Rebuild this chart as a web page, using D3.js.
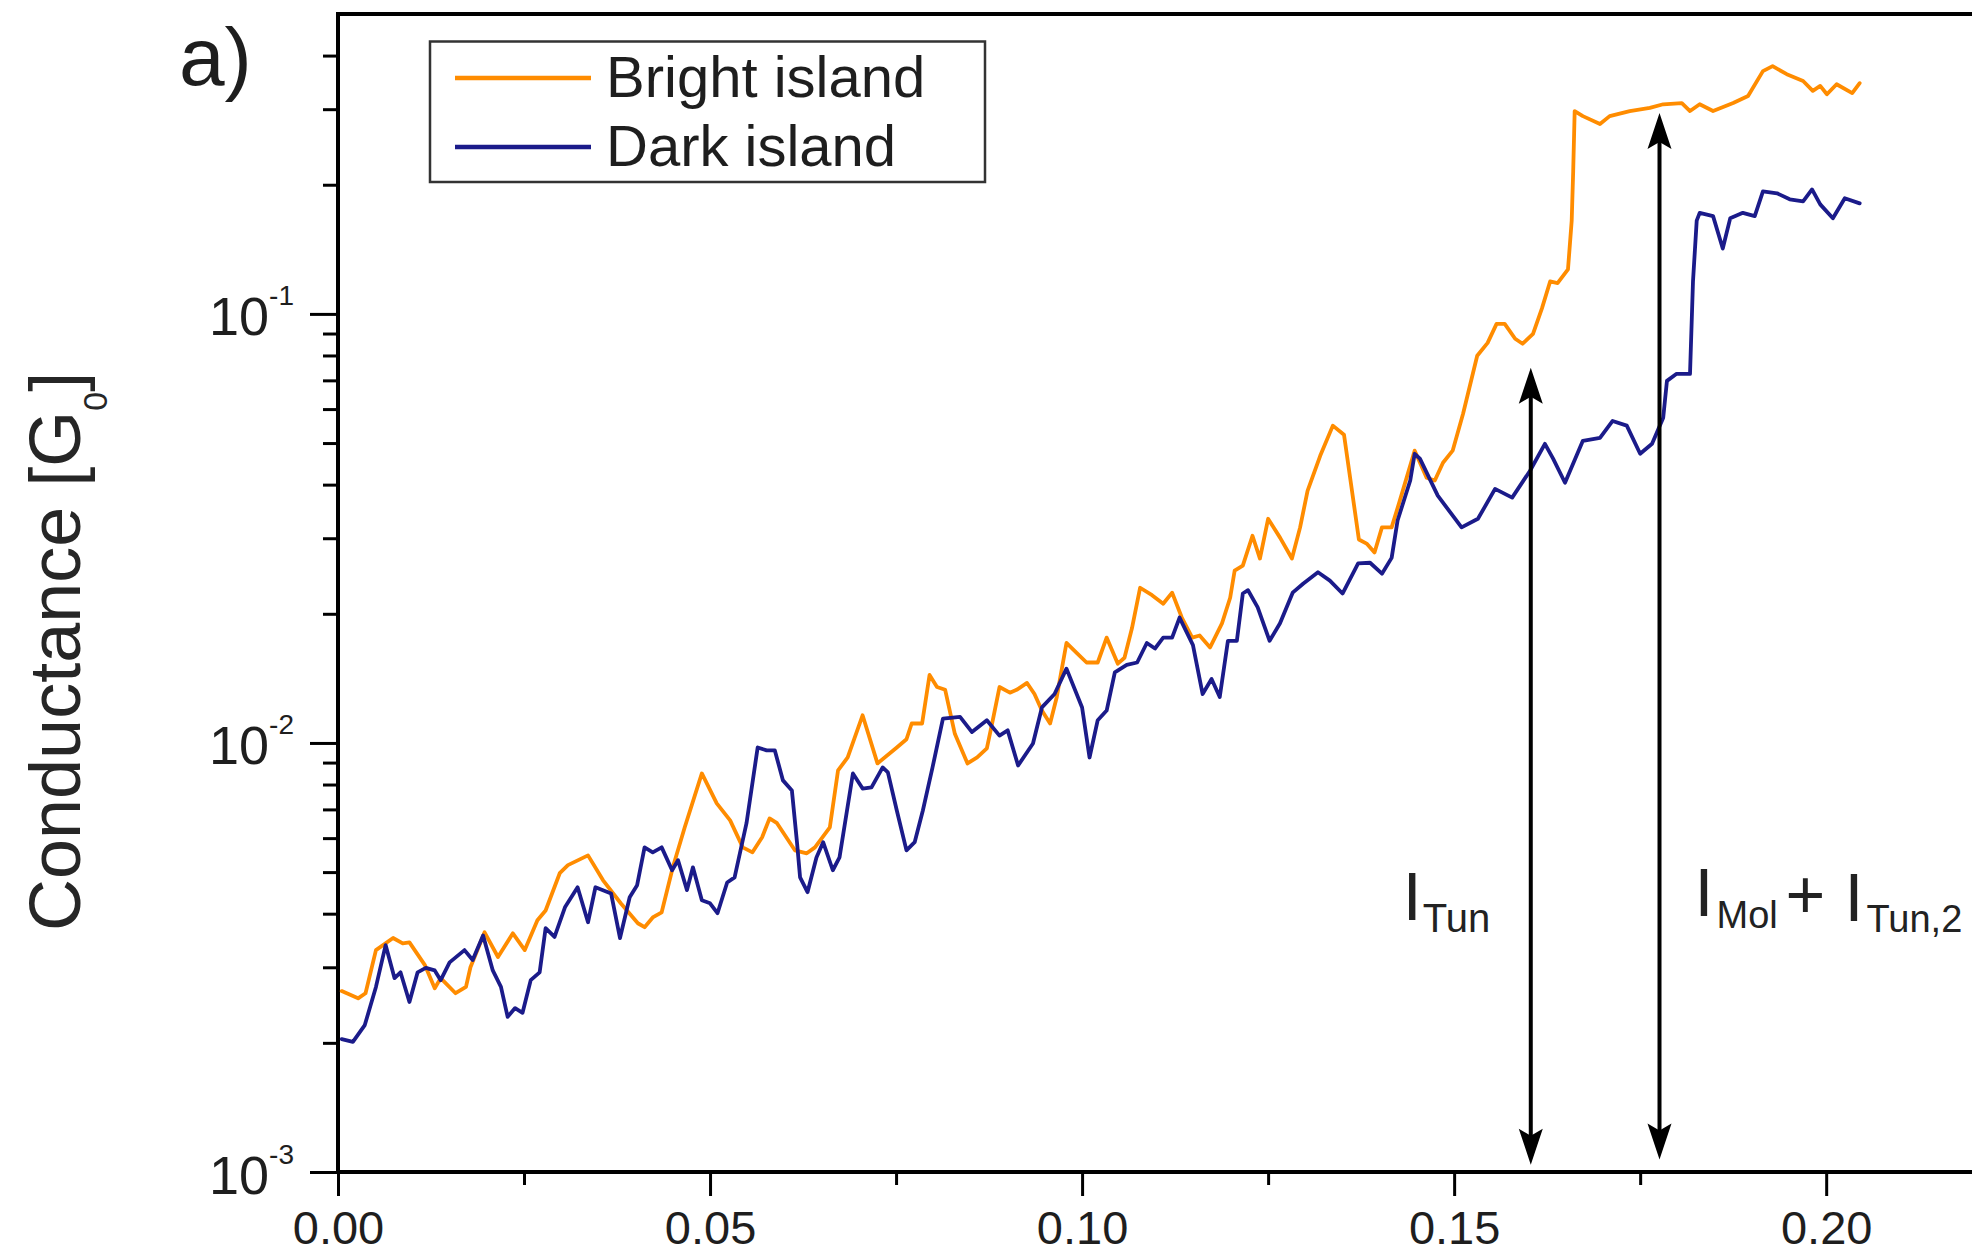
<!DOCTYPE html>
<html>
<head>
<meta charset="utf-8">
<script src="https://cdn.jsdelivr.net/npm/d3@7"></script>
<style>
html,body{margin:0;padding:0;background:#fff;}
svg{display:block;}
text{font-family:"Liberation Sans", Arial, Helvetica, sans-serif;}
</style>
</head>
<body>
<svg id="chart" width="1972" height="1257"></svg>
<script>
// ---------------- DATA ----------------
const brightX = [0.0005,0.0027,0.0037,0.0051,0.0074,0.0087,0.0096,0.0117,0.0130,0.0138,0.0158,0.0172,0.0178,0.0197,0.0215,0.0235,0.0251,0.0268,0.0279,0.0298,0.0309,0.0336,0.0356,0.0380,0.0403,0.0412,0.0423,0.0435,0.0450,0.0466,0.0489,0.0509,0.0527,0.0544,0.0557,0.0570,0.0580,0.0590,0.0614,0.0630,0.0641,0.0661,0.0672,0.0685,0.0705,0.0725,0.0751,0.0764,0.0771,0.0785,0.0795,0.0805,0.0816,0.0829,0.0846,0.0859,0.0872,0.0880,0.0889,0.0903,0.0912,0.0926,0.0936,0.0946,0.0957,0.0966,0.0979,0.0993,0.1006,0.1021,0.1033,0.1048,0.1057,0.1067,0.1078,0.1094,0.1109,0.1121,0.1134,0.1148,0.1158,0.1172,0.1188,0.1199,0.1205,0.1216,0.1229,0.1239,0.1250,0.1266,0.1282,0.1293,0.1303,0.1320,0.1337,0.1352,0.1372,0.1383,0.1393,0.1403,0.1416,0.1427,0.1447,0.1463,0.1474,0.1485,0.1498,0.1512,0.1531,0.1545,0.1557,0.1568,0.1582,0.1592,0.1606,0.1618,0.1629,0.1639,0.1653,0.1658,0.1660,0.1662,0.1673,0.1696,0.1709,0.1736,0.1763,0.1781,0.1806,0.1817,0.1830,0.1848,0.1875,0.1895,0.1915,0.1928,0.1947,0.1969,0.1982,0.1992,0.2001,0.2014,0.2035,0.2045];
const brightG = [0.00264,0.00254,0.00261,0.00329,0.00351,0.00341,0.00343,0.00303,0.00268,0.00283,0.00261,0.00270,0.00300,0.00362,0.00317,0.00360,0.00329,0.00386,0.00407,0.00497,0.00519,0.00547,0.00479,0.00423,0.00380,0.00372,0.00392,0.00403,0.00513,0.00636,0.00849,0.00723,0.00660,0.00571,0.00556,0.00603,0.00667,0.00650,0.00562,0.00553,0.00571,0.00636,0.00863,0.00925,0.0116,0.00896,0.00976,0.0102,0.0111,0.0111,0.0144,0.0135,0.0133,0.0105,0.00896,0.00925,0.00971,0.0113,0.0135,0.0131,0.0133,0.0138,0.0130,0.0119,0.0111,0.0128,0.0171,0.0162,0.0154,0.0154,0.0176,0.0153,0.0158,0.0185,0.0230,0.0221,0.0211,0.0224,0.0196,0.0176,0.0178,0.0167,0.0190,0.0218,0.0252,0.0259,0.0304,0.0269,0.0333,0.0301,0.0269,0.0318,0.0387,0.0467,0.0549,0.0523,0.0298,0.0291,0.0278,0.0318,0.0318,0.0367,0.0480,0.0415,0.0409,0.0450,0.0480,0.0585,0.0799,0.0856,0.0948,0.0948,0.0875,0.0852,0.0898,0.103,0.119,0.118,0.127,0.165,0.215,0.297,0.289,0.277,0.289,0.297,0.302,0.308,0.310,0.297,0.308,0.297,0.310,0.322,0.368,0.378,0.362,0.349,0.331,0.340,0.325,0.343,0.327,0.345];

const darkX = [0.0005,0.0020,0.0036,0.0051,0.0064,0.0076,0.0084,0.0096,0.0107,0.0118,0.0130,0.0138,0.0150,0.0170,0.0181,0.0195,0.0208,0.0219,0.0228,0.0238,0.0248,0.0259,0.0271,0.0279,0.0291,0.0305,0.0322,0.0336,0.0346,0.0367,0.0379,0.0392,0.0402,0.0412,0.0423,0.0435,0.0449,0.0457,0.0469,0.0477,0.0489,0.0500,0.0510,0.0523,0.0533,0.0549,0.0564,0.0576,0.0587,0.0598,0.0610,0.0617,0.0621,0.0631,0.0643,0.0652,0.0665,0.0674,0.0692,0.0705,0.0717,0.0732,0.0739,0.0751,0.0764,0.0775,0.0786,0.0799,0.0813,0.0836,0.0852,0.0872,0.0889,0.0900,0.0914,0.0934,0.0946,0.0963,0.0979,0.1000,0.1010,0.1021,0.1033,0.1044,0.1060,0.1074,0.1087,0.1098,0.1109,0.1121,0.1131,0.1149,0.1162,0.1174,0.1185,0.1196,0.1208,0.1216,0.1223,0.1236,0.1252,0.1266,0.1283,0.1297,0.1317,0.1333,0.1350,0.1371,0.1387,0.1403,0.1416,0.1424,0.1441,0.1447,0.1454,0.1478,0.1510,0.1532,0.1555,0.1578,0.1602,0.1622,0.1633,0.1649,0.1673,0.1696,0.1713,0.1732,0.1750,0.1766,0.1781,0.1786,0.1799,0.1817,0.1821,0.1826,0.1830,0.1848,0.1861,0.1871,0.1888,0.1904,0.1915,0.1934,0.1951,0.1969,0.1981,0.1992,0.2009,0.2025,0.2045];
const darkG = [0.00204,0.00201,0.00220,0.00270,0.00338,0.00283,0.00292,0.00249,0.00292,0.00299,0.00295,0.00280,0.00308,0.00329,0.00312,0.00356,0.00295,0.00270,0.00230,0.00241,0.00235,0.00280,0.00292,0.00370,0.00353,0.00414,0.00461,0.00382,0.00461,0.00446,0.00351,0.00437,0.00466,0.00571,0.00556,0.00571,0.00505,0.00533,0.00454,0.00513,0.00430,0.00423,0.00401,0.00473,0.00486,0.00650,0.00976,0.00961,0.00961,0.00818,0.00775,0.00583,0.00486,0.00449,0.00541,0.00587,0.00505,0.00541,0.00849,0.00783,0.00788,0.00877,0.00854,0.00696,0.00562,0.00587,0.00696,0.00877,0.0114,0.0115,0.0106,0.0113,0.0104,0.0107,0.00886,0.00997,0.0121,0.0130,0.0149,0.0121,0.00925,0.0113,0.0119,0.0146,0.0152,0.0154,0.0171,0.0166,0.0176,0.0176,0.0196,0.0169,0.0130,0.0141,0.0128,0.0173,0.0173,0.0223,0.0227,0.0207,0.0173,0.0190,0.0224,0.0235,0.0250,0.0239,0.0223,0.0262,0.0263,0.0248,0.0270,0.0330,0.0409,0.0472,0.0460,0.0377,0.0318,0.0333,0.0391,0.0373,0.0431,0.0498,0.0460,0.0404,0.0506,0.0514,0.0563,0.0549,0.0472,0.0498,0.0573,0.0698,0.0725,0.0725,0.119,0.165,0.172,0.169,0.142,0.167,0.172,0.169,0.193,0.191,0.185,0.183,0.195,0.180,0.167,0.186,0.181];

const seriesNames = ["Bright island", "Dark island"];
const seriesColors = ["#FF8C00", "#1B1B8A"];

const xTickValues = [0, 0.05, 0.10, 0.15, 0.20];
const xMinorTicks = [0.025, 0.075, 0.125, 0.175];
const yTickValues = [1e-3, 1e-2, 1e-1];
const yTickExponents = ["-3", "-2", "-1"];
const yMinorTicks = [0.002,0.003,0.004,0.005,0.006,0.007,0.008,0.009,0.02,0.03,0.04,0.05,0.06,0.07,0.08,0.09,0.2,0.3,0.4];

// annotation arrows (x position, top and bottom conductance)
const arrowX = [0.1603, 0.1776];
const arrowTop = [0.0749, 0.294];
const arrowBottom = [0.00104, 0.00107];

// ---------------- LAYOUT ----------------
const svg = d3.select("#chart");
const pLeft = 338, pRight = 1975, pTop = 14, pBottom = 1172;
const x = d3.scaleLinear().domain([0, 0.22]).range([pLeft, pRight]);
const y = d3.scaleLog().domain([1e-3, 0.5]).range([pBottom, pTop]);
const ink = "#1e1e1e";
const fam = '"Liberation Sans", Arial, sans-serif';

// x axis major
const gx = svg.append("g").attr("transform", `translate(0,${pBottom})`)
  .call(d3.axisBottom(x).tickValues(xTickValues).tickSize(24).tickFormat(d3.format(".2f")));
gx.select(".domain").remove();
gx.selectAll(".tick line").attr("stroke", "#000").attr("stroke-width", 3);
gx.selectAll(".tick text").attr("y", 72).attr("dy", null)
  .attr("fill", ink).style("font-size", "47px").style("font-family", fam);
// x axis minor
const gxm = svg.append("g").attr("transform", `translate(0,${pBottom})`)
  .call(d3.axisBottom(x).tickValues(xMinorTicks).tickSize(13).tickFormat(""));
gxm.select(".domain").remove();
gxm.selectAll(".tick line").attr("stroke", "#000").attr("stroke-width", 3);

// y axis major
const gy = svg.append("g").attr("transform", `translate(${pLeft},0)`)
  .call(d3.axisLeft(y).tickValues(yTickValues).tickSize(28).tickFormat(() => ""));
gy.select(".domain").remove();
gy.selectAll(".tick line").attr("stroke", "#000").attr("stroke-width", 3);
gy.selectAll(".tick text").each(function(d, i) {
  const t = d3.select(this);
  t.text(null).attr("x", -44).attr("y", 21).attr("dy", null)
    .attr("text-anchor", "end").attr("fill", ink)
    .style("font-size", "54px").style("font-family", fam);
  t.append("tspan").text("10");
  t.append("tspan").attr("dy", -30).style("font-size", "28px").text(yTickExponents[i]);
});
// y axis minor
const gym = svg.append("g").attr("transform", `translate(${pLeft},0)`)
  .call(d3.axisLeft(y).tickValues(yMinorTicks).tickSize(15).tickFormat(""));
gym.select(".domain").remove();
gym.selectAll(".tick line").attr("stroke", "#000").attr("stroke-width", 3);

// frame
svg.append("rect").attr("x", pLeft).attr("y", pTop)
  .attr("width", pRight - pLeft).attr("height", pBottom - pTop)
  .attr("fill", "none").attr("stroke", "#000").attr("stroke-width", 4);

// data lines
const line = d3.line().x(d => x(d[0])).y(d => y(d[1]));
const series = [
  d3.zip(brightX, brightG),
  d3.zip(darkX, darkG)
];
series.forEach((s, i) => {
  svg.append("path").datum(s).attr("d", line)
    .attr("fill", "none").attr("stroke", seriesColors[i])
    .attr("stroke-width", 3.8).attr("stroke-linejoin", "round").attr("stroke-linecap", "round");
});

// arrows
arrowX.forEach((ax, i) => {
  const X = x(ax), Yt = y(arrowTop[i]), Yb = y(arrowBottom[i]);
  svg.append("line").attr("x1", X).attr("x2", X).attr("y1", Yt + 20).attr("y2", Yb - 20)
    .attr("stroke", "#000").attr("stroke-width", 4);
  svg.append("path")
    .attr("d", `M${X},${Yt} L${X - 12},${Yt + 36} L${X},${Yt + 29} L${X + 12},${Yt + 36} Z`)
    .attr("fill", "#000");
  svg.append("path")
    .attr("d", `M${X},${Yb} L${X - 12},${Yb - 36} L${X},${Yb - 29} L${X + 12},${Yb - 36} Z`)
    .attr("fill", "#000");
});

// annotation labels
const X1 = x(arrowX[0]), X2 = x(arrowX[1]);
const a1 = svg.append("text").attr("fill", "#222");
a1.append("tspan").attr("x", X1 - 128).attr("y", 920).style("font-size", "68px").text("I");
a1.append("tspan").attr("x", X1 - 108).attr("y", 932).style("font-size", "40px").text("Tun");
const a2 = svg.append("text").attr("fill", "#222");
a2.append("tspan").attr("x", X2 + 35).attr("y", 916).style("font-size", "68px").text("I");
a2.append("tspan").attr("x", X2 + 57).attr("y", 928).style("font-size", "38px").text("Mol");
a2.append("tspan").attr("x", X2 + 126).attr("y", 918).style("font-size", "68px").text("+");
a2.append("tspan").attr("x", X2 + 185).attr("y", 921).style("font-size", "68px").text("I");
a2.append("tspan").attr("x", X2 + 207).attr("y", 932).style("font-size", "38px").text("Tun,2");

// legend
const lg = svg.append("g");
lg.append("rect").attr("x", 430).attr("y", 41.5).attr("width", 555).attr("height", 140.5)
  .attr("fill", "#fff").attr("stroke", "#333").attr("stroke-width", 2.5);
const legendRows = [78, 147];
seriesNames.forEach((name, i) => {
  lg.append("line").attr("x1", 455).attr("x2", 591).attr("y1", legendRows[i]).attr("y2", legendRows[i])
    .attr("stroke", seriesColors[i]).attr("stroke-width", 4.5);
  lg.append("text").attr("x", 606).attr("y", legendRows[i] + 19).attr("fill", ink)
    .style("font-size", "58px").text(name);
});

// panel label
svg.append("text").attr("x", 179).attr("y", 85).attr("fill", ink).style("font-size", "82px").text("a)");

// y axis title
const yt = svg.append("text").attr("transform", "translate(80,931) rotate(-90)")
  .attr("fill", "#262626").style("font-size", "72px");
yt.append("tspan").text("Conductance [G");
yt.append("tspan").attr("dy", 27).style("font-size", "34px").text("0");
yt.append("tspan").attr("dy", -27).text("]");
</script>
</body>
</html>
